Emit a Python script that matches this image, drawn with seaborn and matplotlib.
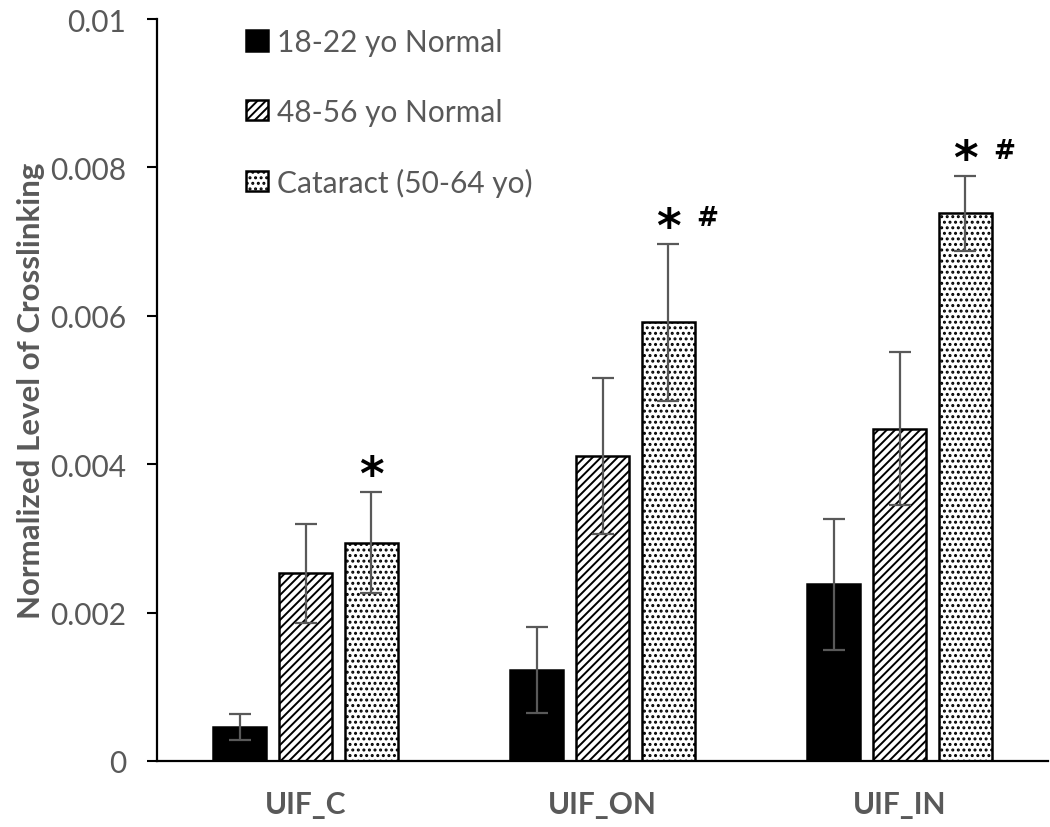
import matplotlib
matplotlib.use("Agg")
import matplotlib.pyplot as plt
import seaborn as sns
import pandas as pd

# ---------------- data ----------------
categories = ["UIF_C", "UIF_ON", "UIF_IN"]
groups = ["18-22 yo Normal", "48-56 yo Normal", "Cataract (50-64 yo)"]
young = [0.00046, 0.00123, 0.00238]
young_err = [0.00018, 0.00058, 0.00088]
middle = [0.00253, 0.00411, 0.00448]
middle_err = [0.00067, 0.00105, 0.00103]
cataract = [0.00294, 0.00591, 0.00738]
cataract_err = [0.00068, 0.00106, 0.00050]
star_marks = ["*", "*", "*"]
hash_marks = ["", "#", "#"]
y_ticks = [0, 0.002, 0.004, 0.006, 0.008, 0.01]
y_tick_labels = ["0", "0.002", "0.004", "0.006", "0.008", "0.01"]
y_label = "Normalized Level of Crosslinking"

values = [young, middle, cataract]
errors = [young_err, middle_err, cataract_err]
rows = []
for g, vals, errs in zip(groups, values, errors):
    for c, v, e in zip(categories, vals, errs):
        rows.append({"Category": c, "Group": g, "Value": v, "Err": e})
df = pd.DataFrame(rows)

# ---------------- style ----------------
sns.set_theme(style="white")
plt.rcParams["font.family"] = ["Lato", "DejaVu Sans"]
plt.rcParams["hatch.linewidth"] = 1.4
GRAY = "#595959"
FS = 21.5

fig = plt.figure(figsize=(10.5, 8.28), dpi=100)
ax = fig.add_axes([157 / 1050, 1 - 762 / 828, (1048 - 157) / 1050, (762 - 20) / 828])

sns.barplot(data=df, x="Category", y="Value", hue="Group", order=categories,
            hue_order=groups, errorbar=None, width=0.664, gap=0.19,
            palette=["black", "white", "white"], edgecolor="black",
            linewidth=1.5, legend=False, ax=ax)

hatches = [None, "////", "..."]
for cont, h in zip(ax.containers, hatches):
    for p in cont.patches:
        p.set_edgecolor("black")
        p.set_linewidth(1.8)
        if h:
            p.set_hatch(h)

# error bars at the bar centres produced by seaborn
for cont, g in zip(ax.containers, groups):
    sub = df[df["Group"] == g].set_index("Category").loc[categories]
    xs = [p.get_x() + p.get_width() / 2 for p in cont.patches]
    ax.errorbar(xs, sub["Value"].values, yerr=sub["Err"].values, fmt="none",
                ecolor=GRAY, elinewidth=1.6, capsize=8, capthick=1.6, zorder=5)

# significance markers above cataract bars
cat_cont = ax.containers[2]
for p, v, e, s, h in zip(cat_cont.patches, cataract, cataract_err, star_marks, hash_marks):
    xc = p.get_x() + p.get_width() / 2
    ax.annotate(s, xy=(xc, v + e), xytext=(0, -5), textcoords="offset points",
                ha="center", va="bottom", fontsize=34, fontweight="bold",
                color="black", family="DejaVu Sans")
    if h:
        ax.annotate(h, xy=(xc, v + e), xytext=(28, 9), textcoords="offset points",
                    ha="center", va="bottom", fontsize=19, fontweight="bold",
                    color="black", family="DejaVu Sans")

# axes
ax.set_xlim(-0.5, 2.5)
ax.set_ylim(0, 0.01)
ax.set_yticks(y_ticks)
ax.set_yticklabels(y_tick_labels)
ax.set_xticks(range(len(categories)))
ax.set_xticklabels(categories, fontweight="bold")
ax.set_xticks([-0.5, 0.5, 1.5, 2.5], minor=True)
ax.tick_params(axis="x", which="major", length=0, pad=21, labelsize=FS, labelcolor=GRAY)
ax.tick_params(axis="x", which="minor", direction="out", length=9, width=1.5, color="black")
ax.tick_params(axis="y", direction="out", length=7, width=1.5, color="black",
               pad=15, labelsize=FS, labelcolor=GRAY, left=True)
ax.set_xlabel("")
ax.set_ylabel(y_label, fontsize=22.5, fontweight="bold", color=GRAY, labelpad=4)
for side in ["top", "right"]:
    ax.spines[side].set_visible(False)
for side in ["left", "bottom"]:
    ax.spines[side].set_color("black")
    ax.spines[side].set_linewidth(1.6)

leg = ax.legend(list(ax.containers), groups, loc="upper left",
                bbox_to_anchor=(0.0999, 0.988), frameon=False, fontsize=FS,
                handlelength=0.73, handleheight=0.67, handletextpad=0.3,
                labelspacing=1.4, borderaxespad=0, borderpad=0)
for t in leg.get_texts():
    t.set_color(GRAY)

fig.savefig("out.png", dpi=100)
